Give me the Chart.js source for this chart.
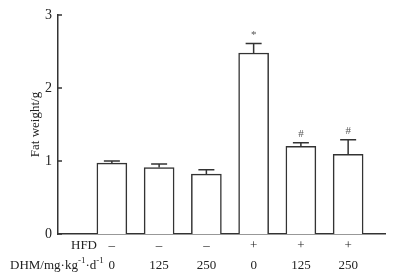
<!DOCTYPE html>
<html>
<head>
<meta charset="utf-8">
<script src="https://cdn.jsdelivr.net/npm/chart.js@4"></script>
<style>
  html, body { margin: 0; padding: 0; background: #fff; }
  #wrap { width: 393px; height: 275px; }
</style>
</head>
<body>
<div id="wrap"><canvas id="fatChart" width="393" height="275"></canvas></div>
<script>
// data
const groups = [1, 2, 3, 4, 5, 6];
const fatWeight = [0.97, 0.91, 0.82, 2.48, 1.20, 1.09];
const fatErr = [0.03, 0.05, 0.06, 0.13, 0.05, 0.20];
const marks = ["", "", "", "*", "#", "#"];
const hfdLabels = ["\u2013", "\u2013", "\u2013", "+", "+", "+"];
const dhmLabels = ["0", "125", "250", "0", "125", "250"];
const yTicks = [0, 1, 2, 3];

const ink = "#333";
const serif = "'Liberation Serif', 'DejaVu Serif', serif";

const extras = {
  id: "extras",
  afterDatasetsDraw(chart) {
    const { ctx, scales: { x, y }, chartArea } = chart;
    ctx.save();
    ctx.strokeStyle = ink;
    ctx.lineWidth = 1.5;

    // error bars (upper only)
    groups.forEach((g, i) => {
      const px = x.getPixelForValue(g);
      const top = y.getPixelForValue(fatWeight[i]);
      const cap = y.getPixelForValue(fatWeight[i] + fatErr[i]);
      ctx.beginPath();
      ctx.moveTo(px, top);
      ctx.lineTo(px, cap);
      ctx.moveTo(px - 8, cap);
      ctx.lineTo(px + 8, cap);
      ctx.stroke();
    });

    // inward ticks on y axis
    yTicks.forEach((t) => {
      const py = y.getPixelForValue(t);
      ctx.beginPath();
      ctx.moveTo(chartArea.left, py);
      ctx.lineTo(chartArea.left + 4, py);
      ctx.stroke();
    });

    // y title
    ctx.fillStyle = "#222";
    ctx.font = "13px " + serif;
    ctx.textAlign = "center";
    ctx.textBaseline = "middle";
    ctx.save();
    ctx.translate(36, (chartArea.top + chartArea.bottom) / 2);
    ctx.rotate(-Math.PI / 2);
    ctx.fillText("Fat weight/g", 0, 0);
    ctx.restore();

    // significance marks
    ctx.fillStyle = "#555";
    ctx.font = "11px " + serif;
    ctx.textAlign = "center";
    ctx.textBaseline = "bottom";
    groups.forEach((g, i) => {
      if (!marks[i]) return;
      const px = x.getPixelForValue(g);
      const cap = y.getPixelForValue(fatWeight[i] + fatErr[i]);
      ctx.fillText(marks[i], px, cap - 3);
    });

    // group rows under the axis
    ctx.fillStyle = "#222";
    ctx.font = "13px " + serif;
    ctx.textBaseline = "middle";
    groups.forEach((g, i) => {
      const px = x.getPixelForValue(g);
      ctx.textAlign = "center";
      ctx.fillText(hfdLabels[i], px, 246);
      ctx.fillText(dhmLabels[i], px, 266);
    });
    ctx.textAlign = "right";
    ctx.fillText("HFD", 97, 246);

    // DHM/mg·kg-1·d-1 with superscripts
    ctx.textAlign = "left";
    let cx = 10;
    const parts = [["DHM/mg\u00b7kg", false], ["-1", true], ["\u00b7d", false], ["-1", true]];
    parts.forEach(([s, sup]) => {
      ctx.font = (sup ? "9px " : "13px ") + serif;
      ctx.fillText(s, cx, sup ? 261 : 266);
      cx += ctx.measureText(s).width;
    });
    ctx.restore();
  }
};

new Chart(document.getElementById("fatChart"), {
  type: "bar",
  data: {
    datasets: [
      {
        data: groups.map((g, i) => ({ x: g, y: fatWeight[i] })),
        backgroundColor: "#fff",
        borderColor: ink,
        borderWidth: 1.5,
        borderSkipped: "bottom",
        barThickness: 30
      }
    ]
  },
  options: {
    responsive: false,
    animation: false,
    layout: { padding: { top: 15, right: 8, left: 0, bottom: 0 } },
    plugins: {
      legend: { display: false },
      tooltip: { enabled: false }
    },
    scales: {
      x: {
        type: "linear",
        offset: false,
        min: -0.14,
        max: 6.78,
        ticks: { display: false },
        grid: { display: false, offset: false },
        border: { display: true, color: ink, width: 1.5 },
        afterFit: (s) => { s.height = 41; }
      },
      y: {
        min: 0,
        max: 3,
        afterBuildTicks: (s) => { s.ticks = yTicks.map((v) => ({ value: v })); },
        ticks: {
          color: "#222",
          font: { family: serif, size: 14 },
          padding: 6
        },
        grid: { display: false, drawTicks: false },
        border: { display: true, color: ink, width: 1.5 },
        afterFit: (s) => { s.width = 58; }
      }
    }
  },
  plugins: [extras]
});
</script>
</body>
</html>
